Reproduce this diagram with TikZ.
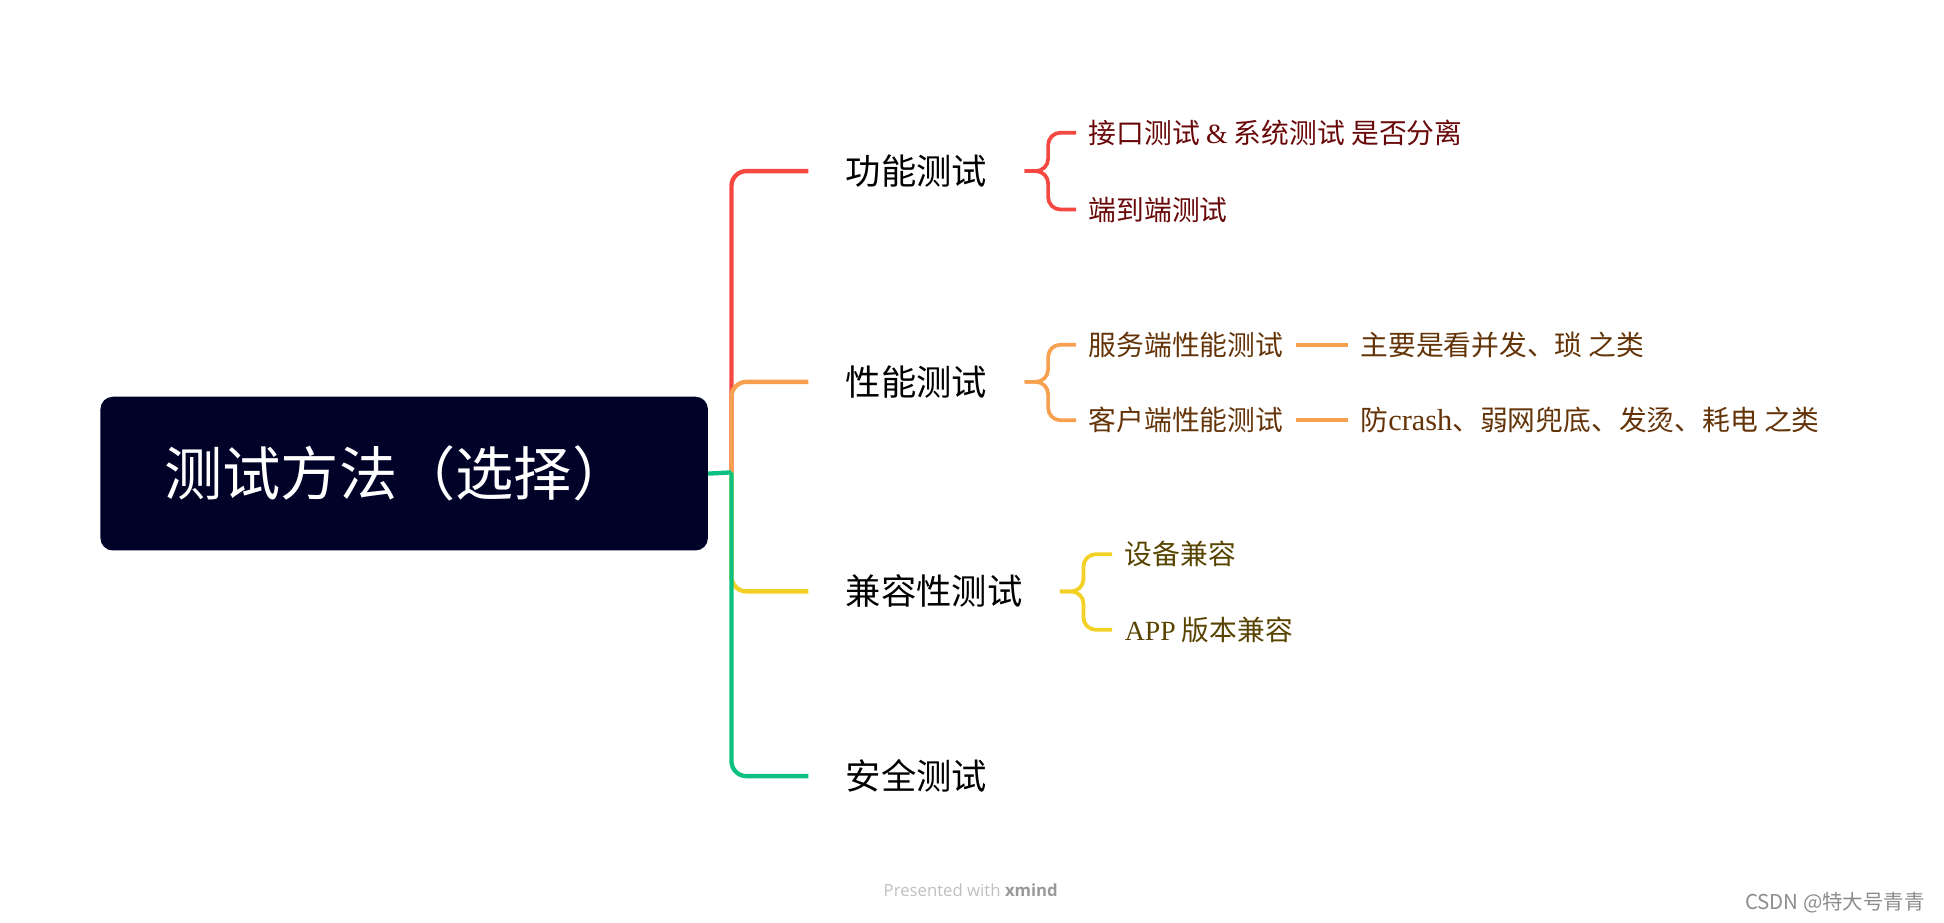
\documentclass[tikz,border=0pt]{standalone}
\usepackage{fontspec}
\setmainfont{Noto Sans CJK SC}
\newfontfamily\lat{Liberation Serif}
\newfontfamily\ui{Open Sans}
\usetikzlibrary{positioning}

\definecolor{rootbg}{RGB}{0,2,40}
\definecolor{cred}{RGB}{245,72,64}
\definecolor{corange}{RGB}{247,160,80}
\definecolor{cyellow}{RGB}{242,208,36}
\definecolor{cgreen}{RGB}{12,192,128}
\definecolor{tred}{RGB}{105,8,8}
\definecolor{torange}{RGB}{100,52,8}
\definecolor{tyellow}{RGB}{88,68,0}

\begin{document}
\begin{tikzpicture}[x=1pt, y=-1pt,
			root/.style={rounded corners=10pt, fill=rootbg, text=white, minimum width=490pt, minimum height=124pt, font=\fontsize{47}{52}\selectfont},
			topic/.style={anchor=west, inner xsep=30pt, font=\fontsize{28.5}{32}\selectfont},
			sub/.style={anchor=west, inner xsep=10pt, font=\fontsize{22.4}{26}\selectfont},
			branch/.style={line width=3.5pt, rounded corners=12pt},
			twig/.style={line width=3pt, rounded corners=10pt}
			]
			\useasboundingbox (0,0) rectangle (1568,744);
			
			% --- ROOT ---
			\node[root] (root) at (326,382) {\hspace{-11pt}测试方法（选择）};
			\coordinate (hub) at (590,381);
			
			% --- MAIN TOPICS ---
			\node[topic] (func) at (652,138) {功能测试};
			\node[topic] (perf) at (652,308) {性能测试};
			\node[topic] (compat) at (652,477) {兼容性测试};
			\node[topic] (safe) at (652,626) {安全测试};
			
			\draw[branch, cred] (hub) |- (func.west);
			\draw[branch, corange] (hub) |- (perf.west);
			\draw[branch, cyellow] (hub) |- (compat.west);
			\draw[branch, cgreen] (hub) |- (safe.west);
			\draw[branch, cgreen] (root.east) -- (hub);
			
			% --- FUNCTION SUBTOPICS ---
			\node[sub, text=tred] (func-1) at (868,107) {接口测试 {\lat\&} 系统测试 是否分离};
			\node[sub, text=tred] (func-2) at (868,169) {端到端测试};
			\foreach \i in {1,2}
			\draw[twig, cred] (func.east) -- ++(19,0) |- (func-\i.west);
			
			% --- PERFORMANCE SUBTOPICS ---
			\node[sub, text=torange] (perf-1) at (868,278) {服务端性能测试};
			\node[sub, text=torange] (perf-2) at (868,339) {客户端性能测试};
			\node[sub, text=torange, right=42pt of perf-1] (note-1) {主要是看并发、琐 之类};
			\node[sub, text=torange, right=42pt of perf-2] (note-2) {防{\lat\fontsize{24.5}{26}\selectfont crash}、弱网兜底、发烫、耗电 之类};
			\foreach \i in {1,2} {
				\draw[twig, corange] (perf.east) -- ++(19,0) |- (perf-\i.west);
				\draw[twig, corange] (perf-\i.east) -- (note-\i.west);
			}
			
			% --- COMPATIBILITY SUBTOPICS ---
			\node[sub, text=tyellow] (compat-1) at (897,447) {设备兼容};
			\node[sub, text=tyellow] (compat-2) at (897,508) {{\lat APP} 版本兼容};
			\foreach \i in {1,2}
			\draw[twig, cyellow] (compat.east) -- ++(19,0) |- (compat-\i.west);
			
			% --- FOOTER ---
			\node[font=\ui\fontsize{13.5}{16}\selectfont, text=black!25] (credit) at (783,718) {Presented with {\bfseries\color{black!40}xmind}};
			\node[font=\fontsize{16.5}{18}\selectfont, text=black!45] (mark) at (1480,728) {CSDN @特大号青青};
			
		\end{tikzpicture}
\end{document}
